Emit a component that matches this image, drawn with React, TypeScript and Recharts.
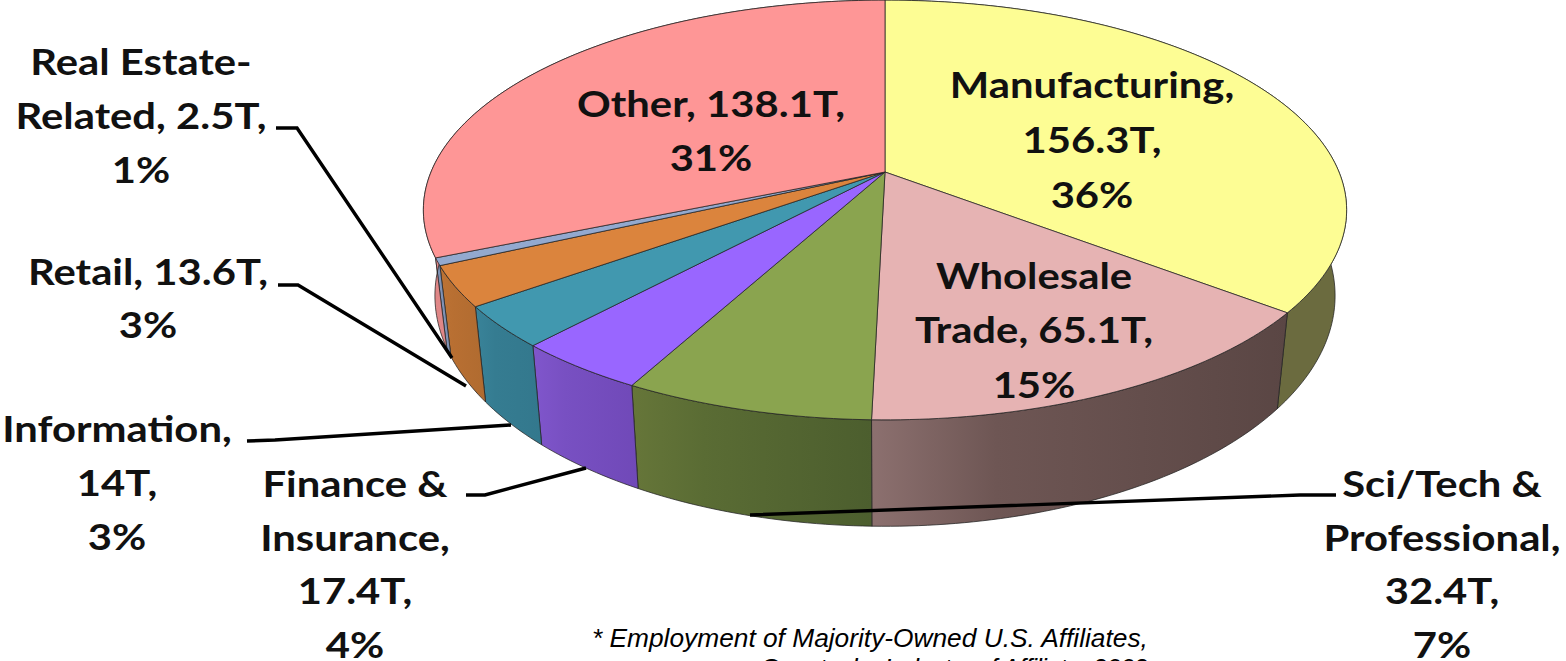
import React from "react";
import { PieChart, Pie } from "recharts";

const categories = ["Manufacturing", "Wholesale Trade", "Sci/Tech & Professional", "Finance & Insurance", "Information", "Retail", "Real Estate-Related", "Other"];
const employment = [156.3, 65.1, 32.4, 17.4, 14, 13.6, 2.5, 138.1];
const labelLines = [
  ["Manufacturing,", "156.3T,", "36%"],
  ["Wholesale", "Trade, 65.1T,", "15%"],
  ["Sci/Tech &", "Professional,", "32.4T,", "7%"],
  ["Finance &", "Insurance,", "17.4T,", "4%"],
  ["Information,", "14T,", "3%"],
  ["Retail, 13.6T,", "3%"],
  ["Real Estate-", "Related, 2.5T,", "1%"],
  ["Other, 138.1T,", "31%"],
];
const footnote = ["* Employment of Majority-Owned U.S. Affiliates,", "Country by Industry of Affiliate, 2002"];

const topColors = ["#FDFD94", "#E6B3B3", "#8AA44F", "#9966FF", "#4198AF", "#DB843D", "#93A9CF", "#FE9696"];
const wallColors = [
  ["#6B6B3F", "#6B6B3F", "#6B6B3F"],
  ["#8C706F", "#6E5654", "#5A4644"],
  ["#667639", "#5A6C34", "#4C5E2E"],
  ["#8056CC", "#7850C2", "#7049B8"],
  ["#398399", "#357C91", "#33788D"],
  ["#BC7335", "#B86F32", "#B06B30"],
  ["#7F92B5", "#7F92B5", "#7F92B5"],
  ["#E08787", "#E08787", "#E08787"],
];
const labelLayout = [
  { x: 1092, y: 98, gap: 55 },
  { x: 1034, y: 289, gap: 54.5 },
  { x: 1442, y: 497, gap: 53.7 },
  { x: 355, y: 497, gap: 53.7 },
  { x: 117, y: 442, gap: 54 },
  { x: 148, y: 285, gap: 53 },
  { x: 141, y: 75, gap: 54 },
  { x: 711, y: 117, gap: 54 },
];
const leaders = [
  null,
  null,
  "1336,495 1300,495 750,515",
  "466,495 485,495 586,468",
  "247,441 275,440 511,425",
  "278,285 298,285 466,386",
  "276,128 297,128 452,358",
  null,
];

const tableData = categories.map((name, i) => ({ name, value: employment[i] }));

const K = 0.181;
const rad = Math.PI / 180;
const FONT = "Lato, 'Open Sans', sans-serif";

function topPoint(cx: number, cy: number, R: number, a: number) {
  const u = Math.cos(a * rad);
  const v = -Math.sin(a * rad);
  const w = 1 - K * v;
  return [cx + (R * u) / w, cy + (R * 0.4471 * v) / w];
}
function bottomPoint(cx: number, cy: number, R: number, a: number) {
  const u = Math.cos(a * rad);
  const v = -Math.sin(a * rad);
  const w = 1 - K * v;
  return [cx + (0.975 * R * u) / w, cy + 82 + (R * 0.4912 * v) / w];
}
function arc(fn: typeof topPoint, cx: number, cy: number, R: number, from: number, to: number) {
  const n = Math.max(2, Math.ceil(Math.abs(to - from)));
  const pts: string[] = [];
  for (let i = 0; i <= n; i++) {
    const p = fn(cx, cy, R, from + ((to - from) * i) / n);
    pts.push(`${p[0].toFixed(2)},${p[1].toFixed(2)}`);
  }
  return pts;
}
const sliceIndex = (p: any) => categories.indexOf(p.name ?? p.payload?.name);

function TopFace(p: any) {
  const i = sliceIndex(p);
  const pts = arc(topPoint, p.cx, p.cy, p.outerRadius, p.startAngle, p.endAngle);
  return (
    <path
      d={`M${p.cx},${p.cy} L${pts.join(" L")} Z`}
      fill={topColors[i]}
      stroke="#222"
      strokeOpacity={0.75}
      strokeWidth={1}
      strokeLinejoin="round"
    />
  );
}

function WallFace(p: any) {
  const i = sliceIndex(p);
  const top = arc(topPoint, p.cx, p.cy, p.outerRadius, p.startAngle, p.endAngle);
  const bottom = arc(bottomPoint, p.cx, p.cy, p.outerRadius, p.endAngle, p.startAngle);
  const id = `wall-${i}`;
  const c = wallColors[i];
  return (
    <g>
      <defs>
        <linearGradient id={id} x1="0" y1="0" x2="1" y2="0">
          <stop offset="0" stopColor={c[0]} />
          <stop offset="0.3" stopColor={c[1]} />
          <stop offset="1" stopColor={c[2]} />
        </linearGradient>
      </defs>
      <path
        d={`M${top.join(" L")} L${bottom.join(" L")} Z`}
        fill={`url(#${id})`}
        stroke="#222"
        strokeOpacity={0.75}
        strokeWidth={1}
        strokeLinejoin="round"
      />
    </g>
  );
}

function renderLabel(p: any) {
  const i = sliceIndex(p);
  const layout = labelLayout[i];
  return (
    <g key={i}>
      {leaders[i] && <polyline points={leaders[i] as string} fill="none" stroke="#000" strokeWidth={3.4} />}
      <text
        transform={`translate(${layout.x} 0) scale(1.13 1)`}
        textAnchor="middle"
        fontFamily={FONT}
        fontWeight={700}
        fontSize={37}
        fill="#111"
      >
        {labelLines[i].map((line, j) => (
          <tspan key={j} x={0} y={layout.y + j * layout.gap}>
            {line}
          </tspan>
        ))}
      </text>
    </g>
  );
}

export default function App() {
  return (
    <div style={{ position: "absolute", left: 0, top: 0, width: 1566, height: 661, background: "#fff", overflow: "hidden" }}>
      <PieChart width={1566} height={661} margin={{ top: 0, right: 0, bottom: 0, left: 0 }}>
        <Pie
          data={tableData}
          dataKey="value"
          nameKey="name"
          cx={885}
          cy={172}
          outerRadius={454}
          startAngle={90}
          endAngle={-270}
          stroke="none"
          shape={WallFace}
          isAnimationActive={false}
        />
        <Pie
          data={tableData}
          dataKey="value"
          nameKey="name"
          cx={885}
          cy={172}
          outerRadius={454}
          startAngle={90}
          endAngle={-270}
          stroke="none"
          shape={TopFace}
          label={renderLabel}
          labelLine={false}
          isAnimationActive={false}
        />
        <text x={592} y={647} fontFamily="'Liberation Sans', Arial, sans-serif" fontStyle="italic" fontSize={26.3} fill="#000">
          {footnote[0]}
        </text>
        <text x={760} y={677} textLength={388} lengthAdjust="spacing" fontFamily="'Liberation Sans', Arial, sans-serif" fontStyle="italic" fontSize={26.3} fill="#000">
          {footnote[1]}
        </text>
      </PieChart>
    </div>
  );
}
